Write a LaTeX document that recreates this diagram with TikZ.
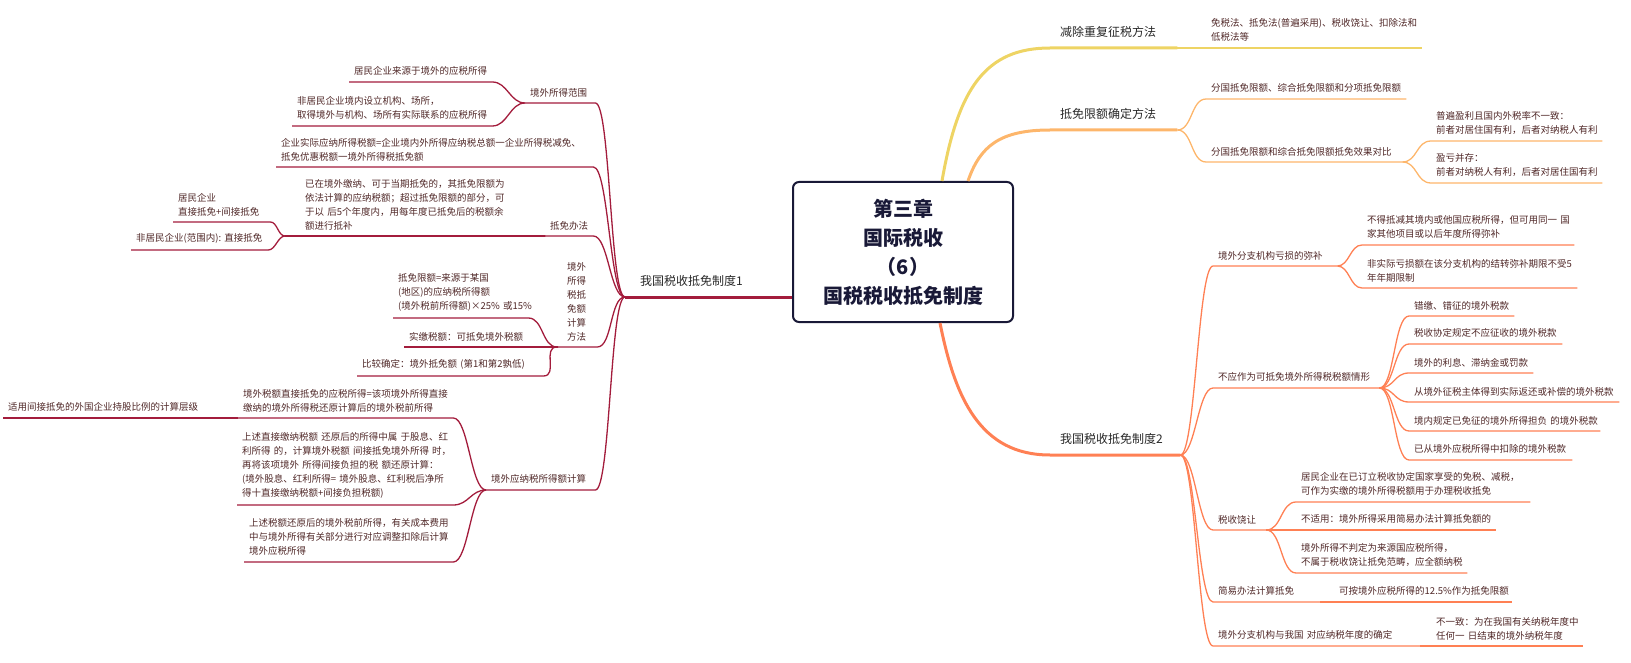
\documentclass[tikz,border=0pt]{standalone}
\usepackage{fontspec}
\setmainfont{Noto Sans CJK SC}

\definecolor{crimson}{RGB}{163,28,60}
\definecolor{sunny}{RGB}{238,212,100}
\definecolor{apricot}{RGB}{253,182,107}
\definecolor{coralbr}{RGB}{255,128,84}
\definecolor{rootline}{RGB}{25,25,55}
\definecolor{leaftext}{RGB}{80,40,40}
\definecolor{maintext}{RGB}{40,40,40}

\tikzstyle{rootbox} = [rectangle, rounded corners=6pt, minimum width=220pt, minimum height=140pt, draw=rootline, line width=2pt, align=center, text=rootline, font=\fontsize{20}{29}\selectfont\bfseries]
\tikzstyle{topic} = [anchor=south west, inner xsep=10pt, inner ysep=10pt, align=left, text=maintext, font=\fontsize{12}{15}\selectfont]
\tikzstyle{leaf} = [anchor=south west, inner xsep=5pt, inner ysep=6pt, align=left, text=leaftext, font=\fontsize{9.5}{14}\selectfont]
\tikzstyle{trunk} = [line width=3pt]
\tikzstyle{twig} = [line width=1.3pt]
\tikzset{rcurve/.style={to path={.. controls +(#1,0) and +(-#1,0) .. (\tikztotarget)}}, rcurve/.default=15,
         lcurve/.style={to path={.. controls +(-#1,0) and +(#1,0) .. (\tikztotarget)}}, lcurve/.default=15}

\begin{document}
\begin{tikzpicture}[x=1pt, y=-1pt]
\useasboundingbox (0,0) rectangle (1631,663);

\node (root) [rootbox] at (903,252) {第三章\\国际税收\\（6）\\国税税收抵免制度};

\node (dbltax) [topic, text width=107pt] at (1050,48) {减除重复征税方法};
\node (limits) [topic, text width=107pt] at (1050,130) {抵免限额确定方法};
\node (credit2) [topic, text width=110pt] at (1050,455) {我国税收抵免制度2};
\node (credit1) [topic, inner xsep=15pt, text width=115pt] at (625,297) {我国税收抵免制度1};

\node (methods) [leaf, text width=206pt] at (1206,48) {免税法、抵免法(普遍采用)、税收饶让、扣除法和\\低税法等};
\node (kinds) [leaf, text width=190pt] at (1206,99) {分国抵免限额、综合抵免限额和分项抵免限额};
\node (compare) [leaf, text width=186pt] at (1206,162) {分国抵免限额和综合抵免限额抵免效果对比};
\node (profit) [leaf, text width=161pt] at (1431,141) {普遍盈利且国内外税率不一致：\\前者对居住国有利，后者对纳税人有利};
\node (mixed) [leaf, text width=161pt] at (1431,183) {盈亏并存：\\前者对纳税人有利，后者对居住国有利};

\node (loss) [leaf, text width=114pt] at (1213,266) {境外分支机构亏损的弥补};
\node (lossa) [leaf, text width=202pt] at (1362,245) {不得抵减其境内或他国应税所得，但可用同一~国\\家其他项目或以后年度所得弥补};
\node (lossb) [leaf, text width=205pt] at (1362,288) {非实际亏损额在该分支机构的结转弥补期限不受5\\年年期限制};
\node (nocredit) [leaf, text width=156pt] at (1213,388) {不应作为可抵免境外所得税税额情形};
\node (wrong) [leaf, text width=95pt] at (1409,316) {错缴、错征的境外税款};
\node (treaty) [leaf, text width=143pt] at (1409,344) {税收协定规定不应征收的境外税款};
\node (penalty) [leaf, text width=114pt] at (1409,373) {境外的利息、滞纳金或罚款};
\node (refund) [leaf, text width=200pt] at (1409,402) {从境外征税主体得到实际返还或补偿的境外税款};
\node (exempt) [leaf, text width=181pt] at (1409,431) {境内规定已免征的境外所得担负~的境外税款};
\node (deducted) [leaf, text width=153pt] at (1409,460) {已从境外应税所得中扣除的境外税款};
\node (sparing) [leaf, text width=43pt] at (1213,530) {税收饶让};
\node (sparea) [leaf, text width=224pt] at (1296,502) {居民企业在已订立税收协定国家享受的免税、减税，\\可作为实缴的境外所得税额用于办理税收抵免};
\node (spareb) [leaf, text width=190pt] at (1296,530) {不适用：境外所得采用简易办法计算抵免额的};
\node (sparec) [leaf, text width=161pt] at (1296,573) {境外所得不判定为来源国应税所得，\\不属于税收饶让抵免范畴，应全额纳税};
\node (simple) [leaf, text width=97pt] at (1213,602) {简易办法计算抵免};
\node (simplea) [leaf, text width=168pt] at (1334,602) {可按境外应税所得的12.5\%作为抵免限额};
\node (branchyr) [leaf, text width=197pt] at (1213,646) {境外分支机构与我国~对应纳税年度的确定};
\node (branchyra) [leaf, text width=142pt] at (1431,646) {不一致：为在我国有关纳税年度中\\任何一~日结束的境外纳税年度};

\node (scope) [leaf, text width=60pt] at (525,103) {境外所得范围};
\node (resident) [leaf, text width=133pt] at (349,82) {居民企业来源于境外的应税所得};
\node (nonres) [leaf, text width=190pt] at (292,126) {非居民企业境内设立机构、场所，\\取得境外与机构、场所有实际联系的应税所得};
\node (formula) [leaf, text width=307pt] at (276,167) {企业实际应纳所得税额=企业境内外所得应纳税总额一企业所得税减免、\\抵免优惠税额一境外所得税抵免额};
\node (way) [leaf, text width=38pt] at (545,236) {抵免办法};
\node (carry) [leaf, inner xsep=20pt, text width=220pt] at (285,236) {已在境外缴纳、可于当期抵免的，其抵免限额为\\依法计算的应纳税额；超过抵免限额的部分，可\\于以~后5个年度内，用每年度已抵免后的税额余\\额进行抵补};
\node (direct) [leaf, text width=87pt] at (173,222) {居民企业\\直接抵免+间接抵免};
\node (nonresdir) [leaf, text width=127pt] at (131,250) {非居民企业(范围内):~直接抵免};
\node (calc) [leaf, inner xsep=10pt, text width=20pt] at (557,347) {境外\\所得\\税抵\\免额\\计算\\方法};
\node (cap) [leaf, text width=125pt] at (393,318) {抵免限额=来源于某国\\(地区)的应纳税所得额\\(境外税前所得额)×25\%~或15\%};
\node (paid) [leaf, text width=139pt] at (404,347) {实缴税额：可抵免境外税额};
\node (lower) [leaf, text width=176pt] at (357,376) {比较确定：境外抵免额~(第1和第2孰低)};
\node (taxable) [leaf, text width=99pt] at (486,490) {境外应纳税所得额计算};
\node (gross) [leaf, text width=205pt] at (238,418) {境外税额直接抵免的应税所得=该项境外所得直接\\缴纳的境外所得税还原计算后的境外税前所得};
\node (tier) [leaf, text width=219pt] at (3,418) {适用间接抵免的外国企业持股比例的计算层级};
\node (indirect) [leaf, text width=206pt] at (237,505) {上述直接缴纳税额~还原后的所得中属~于股息、红\\利所得~的，计算境外税额~间接抵免境外所得~时，\\再将该项境外~所得间接负担的税~额还原计算：\\(境外股息、红利所得=~境外股息、红利税后净所\\得十直接缴纳税额+间接负担税额)};
\node (adjust) [leaf, text width=199pt] at (244,562) {上述税额还原后的境外税前所得，有关成本费用\\中与境外所得有关部分进行对应调整扣除后计算\\境外应税所得};

\draw [trunk, sunny] ([xshift=39pt]root.north) .. controls +(16,-92) and +(-65,0) .. (dbltax.south west) -- (dbltax.south east);
\draw [trunk, apricot] ([xshift=65pt]root.north) .. controls +(12,-35) and +(-50,0) .. (limits.south west) -- (limits.south east);
\draw [trunk, coralbr] ([xshift=37pt]root.south) .. controls +(15,75) and +(-70,0) .. (credit2.south west) -- (credit2.south east);
\draw [trunk, crimson] (root.west |- credit1.south east) -- (credit1.south east) -- (credit1.south west);

\draw [twig, sunny] (dbltax.south east) -- (methods.south west) -- (methods.south east);
\draw [twig, apricot] (limits.south east) to [rcurve] (kinds.south west) -- (kinds.south east);
\draw [twig, apricot] (limits.south east) to [rcurve] (compare.south west) -- (compare.south east);
\draw [twig, apricot] (compare.south east) to [rcurve] (profit.south west) -- (profit.south east);
\draw [twig, apricot] (compare.south east) to [rcurve] (mixed.south west) -- (mixed.south east);

\draw [twig, coralbr] (credit2.south east) to [rcurve] (loss.south west) -- (loss.south east);
\draw [twig, coralbr] (credit2.south east) to [rcurve] (nocredit.south west) -- (nocredit.south east);
\draw [twig, coralbr] (credit2.south east) to [rcurve] (sparing.south west) -- (sparing.south east);
\draw [twig, coralbr] (credit2.south east) to [rcurve] (simple.south west) -- (simple.south east);
\draw [twig, coralbr] (credit2.south east) to [rcurve] (branchyr.south west) -- (branchyr.south east);
\draw [twig, coralbr] (loss.south east) to [rcurve=12] (lossa.south west) -- (lossa.south east);
\draw [twig, coralbr] (loss.south east) to [rcurve=12] (lossb.south west) -- (lossb.south east);
\draw [twig, coralbr] (nocredit.south east) to [rcurve] (wrong.south west) -- (wrong.south east);
\draw [twig, coralbr] (nocredit.south east) to [rcurve] (treaty.south west) -- (treaty.south east);
\draw [twig, coralbr] (nocredit.south east) to [rcurve] (penalty.south west) -- (penalty.south east);
\draw [twig, coralbr] (nocredit.south east) to [rcurve] (refund.south west) -- (refund.south east);
\draw [twig, coralbr] (nocredit.south east) to [rcurve] (exempt.south west) -- (exempt.south east);
\draw [twig, coralbr] (nocredit.south east) to [rcurve] (deducted.south west) -- (deducted.south east);
\draw [twig, coralbr] (sparing.south east) to [rcurve] (sparea.south west) -- (sparea.south east);
\draw [twig, coralbr] (sparing.south east) to [rcurve] (spareb.south west) -- (spareb.south east);
\draw [twig, coralbr] (sparing.south east) to [rcurve] (sparec.south west) -- (sparec.south east);
\draw [twig, coralbr] (simple.south east) -- (simplea.south west) -- (simplea.south east);
\draw [twig, coralbr] (branchyr.south east) -- (branchyra.south west) -- (branchyra.south east);

\draw [twig, crimson] (credit1.south west) to [lcurve] (scope.south east) -- (scope.south west);
\draw [twig, crimson] (credit1.south west) to [lcurve] (formula.south east) -- (formula.south west);
\draw [twig, crimson] (credit1.south west) to [lcurve] (way.south east) -- (way.south west);
\draw [twig, crimson] (credit1.south west) to [lcurve] (calc.south east) -- (calc.south west);
\draw [twig, crimson] (credit1.south west) to [lcurve] (taxable.south east) -- (taxable.south west);
\draw [twig, crimson] (scope.south west) to [lcurve] (resident.south east) -- (resident.south west);
\draw [twig, crimson] (scope.south west) to [lcurve] (nonres.south east) -- (nonres.south west);
\draw [twig, crimson] (way.south west) -- (carry.south east) -- (carry.south west);
\draw [twig, crimson] (carry.south west) to [lcurve=7] (direct.south east) -- (direct.south west);
\draw [twig, crimson] (carry.south west) to [lcurve=7] (nonresdir.south east) -- (nonresdir.south west);
\draw [twig, crimson] (calc.south west) to [lcurve] (cap.south east) -- (cap.south west);
\draw [twig, crimson] (calc.south west) to [lcurve] (paid.south east) -- (paid.south west);
\draw [twig, crimson] (calc.south west) to [lcurve] (lower.south east) -- (lower.south west);
\draw [twig, crimson] (taxable.south west) to [lcurve] (gross.south east) -- (gross.south west);
\draw [twig, crimson] (taxable.south west) to [lcurve] (indirect.south east) -- (indirect.south west);
\draw [twig, crimson] (taxable.south west) to [lcurve] (adjust.south east) -- (adjust.south west);
\draw [twig, crimson] (gross.south west) -- (tier.south east) -- (tier.south west);

\end{tikzpicture}
\end{document}
